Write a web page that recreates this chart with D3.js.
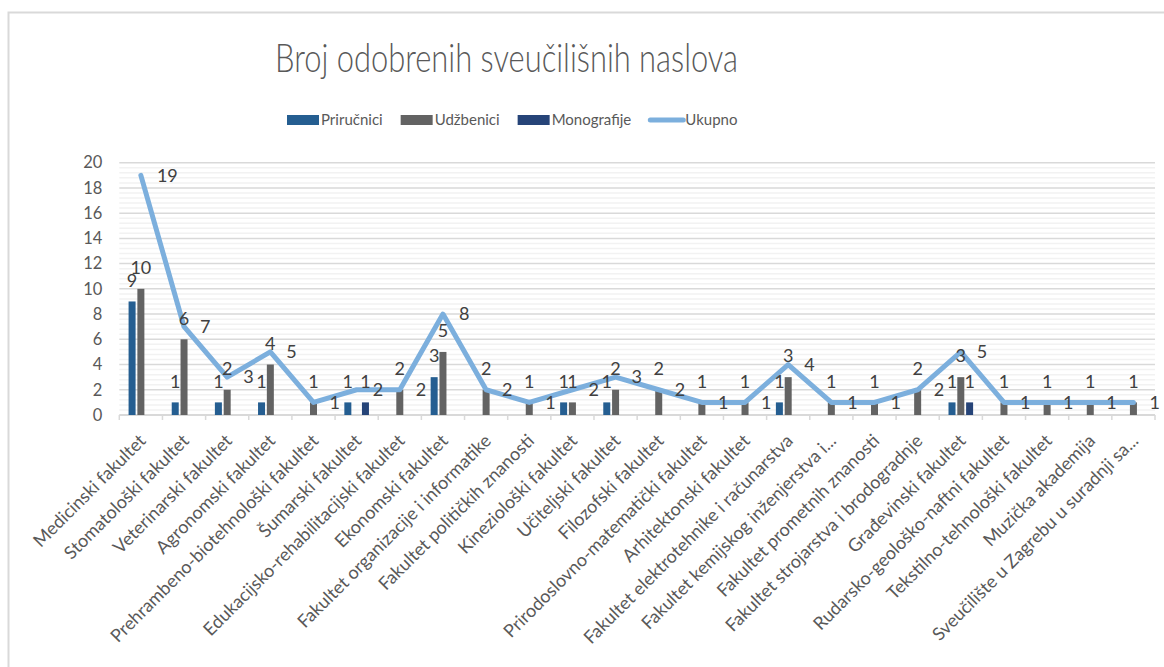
<!DOCTYPE html>
<html><head><meta charset="utf-8">
<script src="https://cdn.jsdelivr.net/npm/d3@7"></script>
<style>
html,body{margin:0;padding:0;background:#fff;}
svg{display:block;font-family:Lato,"Open Sans",sans-serif;}
</style></head>
<body><svg id="chart" width="1164" height="667"></svg>
<script>
const categories = [
  "Medicinski fakultet","Stomatološki fakultet","Veterinarski fakultet","Agronomski fakultet",
  "Prehrambeno-biotehnološki fakultet","Šumarski fakultet","Edukacijsko-rehabilitacijski fakultet",
  "Ekonomski fakultet","Fakultet organizacije i informatike","Fakultet političkih znanosti",
  "Kineziološki fakultet","Učiteljski fakultet","Filozofski fakultet","Prirodoslovno-matematički fakultet",
  "Arhitektonski fakultet","Fakultet elektrotehnike i računarstva","Fakultet kemijskog inženjerstva i...",
  "Fakultet prometnih znanosti","Fakultet strojarstva i brodogradnje","Građevinski fakultet",
  "Rudarsko-geološko-naftni fakultet","Tekstilno-tehnološki fakultet","Muzička akademija",
  "Sveučilište u Zagrebu u suradnji sa..."
];
const prirucnici  = [9,1,1,1,0,1,0,3,0,0,1,1,0,0,0,1,0,0,0,1,0,0,0,0];
const udzbenici   = [10,6,2,4,1,0,2,5,2,1,1,2,2,1,1,3,1,1,2,3,1,1,1,1];
const monografije = [0,0,0,0,0,1,0,0,0,0,0,0,0,0,0,0,0,0,0,1,0,0,0,0];
const ukupno      = [19,7,3,5,1,2,2,8,2,1,2,3,2,1,1,4,1,1,2,5,1,1,1,1];
const yTicks = [0,2,4,6,8,10,12,14,16,18,20];
const seriesNames = ["Priručnici","Udžbenici","Monografije","Ukupno"];
const seriesColors = ["#255e91","#636363","#264478","#7cafdd"];
const titleText = "Broj odobrenih sveučilišnih naslova";

const svg = d3.select("#chart");
const W = 1164, H = 667;
const plot = {left:119.3, right:1155, top:162.7, bottom:415};

svg.append("rect").attr("width",W).attr("height",H).attr("fill","#fff");
svg.append("rect").attr("x",8.5).attr("y",12.5).attr("width",W+20).attr("height",H+20)
  .attr("fill","none").attr("stroke","#d9d9d9").attr("stroke-width",2);

const x = d3.scaleBand().domain(categories).range([plot.left, plot.right]).padding(0);
const y = d3.scaleLinear().domain([0,20]).range([plot.bottom, plot.top]);

// minor gridlines
const minor = d3.range(0, 20.001, 0.4).filter(v => Math.abs(v/2 - Math.round(v/2)) > 1e-6);
svg.append("g").selectAll("line").data(minor).join("line")
  .attr("x1",plot.left).attr("x2",plot.right)
  .attr("y1",d=>y(d)).attr("y2",d=>y(d))
  .attr("stroke","#f2f2f2").attr("stroke-width",1.5);
// major gridlines
svg.append("g").selectAll("line").data(yTicks.filter(v=>v>0)).join("line")
  .attr("x1",plot.left).attr("x2",plot.right)
  .attr("y1",d=>y(d)).attr("y2",d=>y(d))
  .attr("stroke","#d9d9d9").attr("stroke-width",1.5);

// y axis labels
const yAxis = d3.axisLeft(y).tickValues(yTicks).tickSize(0).tickPadding(17);
const gy = svg.append("g").attr("transform",`translate(${plot.left},0)`).call(yAxis);
gy.select(".domain").remove();
gy.selectAll("text").attr("font-size",16.5).attr("fill","#595959").attr("font-family","Lato,'Open Sans',sans-serif");

// x axis
const gx = svg.append("g").attr("transform",`translate(0,${plot.bottom})`);
gx.append("line").attr("x1",plot.left).attr("x2",plot.right).attr("stroke","#d9d9d9").attr("stroke-width",2);
const bounds = categories.map(c=>x(c)).concat([plot.right]);
gx.selectAll("line.tk").data(bounds).join("line").attr("class","tk")
  .attr("x1",d=>d).attr("x2",d=>d).attr("y1",0).attr("y2",5)
  .attr("stroke","#d9d9d9").attr("stroke-width",1.5);
gx.selectAll("text").data(categories).join("text")
  .attr("transform",d=>`translate(${x(d)+x.bandwidth()/2+6},${27}) rotate(-45)`)
  .attr("text-anchor","end").attr("font-size",18).attr("fill","#595959")
  .text(d=>d);

// bars
const barSeries = [prirucnici, udzbenici, monografije];
const step = 8.8, bw = 7;
barSeries.forEach((arr, si) => {
  const g = svg.append("g");
  g.selectAll("rect").data(arr.map((v,i)=>({v, c:categories[i]}))).join("rect")
    .attr("x", d => x(d.c) + x.bandwidth()/2 + (si-1)*step - bw/2)
    .attr("width", bw)
    .attr("y", d => y(d.v))
    .attr("height", d => y(0) - y(d.v))
    .attr("fill", seriesColors[si]);
});

// line
const line = d3.line().x((d,i)=>x(categories[i])+x.bandwidth()/2).y(d=>y(d));
svg.append("path").datum(ukupno).attr("d",line)
  .attr("fill","none").attr("stroke",seriesColors[3]).attr("stroke-width",5)
  .attr("stroke-linejoin","round").attr("stroke-linecap","round");

// bar labels
barSeries.forEach((arr, si) => {
  svg.append("g").selectAll("text").data(arr.map((v,i)=>({v, c:categories[i]})).filter(d=>d.v>0)).join("text")
    .attr("x", d => x(d.c) + x.bandwidth()/2 + (si-1)*step)
    .attr("y", d => y(d.v) - 21)
    .attr("dy","0.35em")
    .attr("text-anchor","middle").attr("font-size",18).attr("fill","#404040")
    .text(d=>d.v);
});
// line labels
svg.append("g").selectAll("text").data(ukupno).join("text")
  .attr("x",(d,i)=>x(categories[i])+x.bandwidth()/2+16)
  .attr("y",d=>y(d)).attr("dy","0.35em")
  .attr("text-anchor","start").attr("font-size",18).attr("fill","#404040")
  .text(d=>d);

// title
svg.append("text").attr("x",506.5).attr("y",72).attr("text-anchor","middle")
  .attr("font-size",40).attr("font-weight",300).attr("fill","#595959")
  .attr("textLength",463).attr("lengthAdjust","spacingAndGlyphs")
  .text(titleText);

// legend
const lg = svg.append("g");
let lx = 287;
const ly = 120;
seriesNames.forEach((name, i) => {
  if (i < 3) {
    lg.append("rect").attr("x",lx).attr("y",ly-5).attr("width",32).attr("height",10).attr("fill",seriesColors[i]);
    lx += 34;
  } else {
    lg.append("line").attr("x1",lx+1).attr("x2",lx+34).attr("y1",ly).attr("y2",ly)
      .attr("stroke",seriesColors[i]).attr("stroke-width",5).attr("stroke-linecap","round");
    lx += 36;
  }
  const t = lg.append("text").attr("x",lx).attr("y",ly).attr("dy","0.35em")
    .attr("font-size",15).attr("fill","#595959").text(name);
  lx += t.node().getComputedTextLength() + 18;
});
</script></body></html>
